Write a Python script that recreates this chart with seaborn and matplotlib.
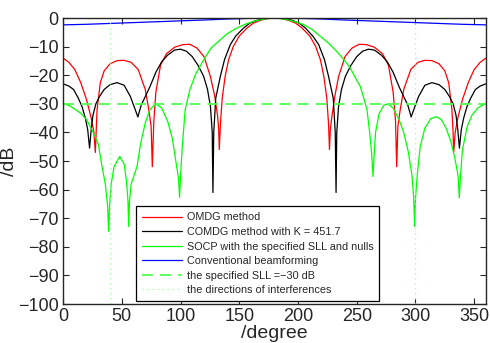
import numpy as np
import pandas as pd
import matplotlib
matplotlib.use("Agg")
import matplotlib.pyplot as plt
import seaborn as sns

sns.set_style("ticks")
plt.rcParams['font.family'] = ['Liberation Sans', 'DejaVu Sans']

# OMDG method (red)
red_deg = [0, 5, 10, 15, 20, 24, 26.3, 27.5, 29, 31.7, 35, 40, 46, 52, 58, 64, 70, 73, 75, 76,
           77.3, 79, 83, 88, 95, 102, 108, 114, 120, 125.4, 129, 131.5, 132.5, 133, 134, 135.5, 138, 141,
           145, 150, 156.6, 162, 168, 174, 180, 186, 192, 198, 203.4, 210, 215, 219, 222, 224.5,
           226, 226.8, 227.5, 229, 231.5, 234.6, 240, 246, 252, 258, 265, 272, 277, 281, 283, 284,
           285, 287, 290, 296, 302, 308, 314, 320, 325, 328.3, 331, 332, 332.5, 333.8, 336, 340,
           345, 350, 355, 360]
red_db = [-14, -15.5, -18, -22.5, -28.5, -35, -40, -47, -32, -22.7, -18.5, -16, -14.9, -14.8, -15.5, -18, -25, -32, -38, -52,
          -36, -26, -16.5, -12.5, -10.2, -9.3, -9.2, -10.5, -13.5, -20.4, -27, -34, -39, -46, -37, -28, -20.4, -14.5,
          -9.9, -6.3, -3.5, -1.8, -0.8, -0.2, 0, -0.2, -0.8, -1.8, -3.5, -6.3, -9.9, -14.5, -20.4, -28,
          -37, -46, -39, -34, -27, -20.4, -13.5, -10.5, -9.2, -9.3, -10.2, -12.5, -16.5, -26, -36, -52,
          -38, -32, -25, -18, -15.5, -14.8, -14.9, -16, -18.5, -22.7, -32, -40, -47, -40, -35, -28.5,
          -22.5, -18, -15.5, -14]

# COMDG method (black)
blk_deg = [0, 5, 9, 13, 16.2, 19, 21, 22.6, 24, 25.5, 28, 31, 35, 40, 46, 52, 57.3, 61, 63.7, 66.5,
           70, 74, 79, 84, 89, 95, 100, 105, 110, 115, 119.7, 123, 125.5, 127, 127.6, 128.3, 130, 133.9,
           137.5, 142.4, 147, 153.7, 159, 165, 172, 180, 188, 195, 201, 206.3, 212.6, 217.6, 222.5, 226,
           230, 231.7, 232.4, 233, 234.5, 237, 240.3, 245, 250, 255, 260, 265, 271, 276, 281, 286,
           290, 293.5, 296.3, 299, 302.7, 308, 314, 320, 325, 329, 332, 334.5, 336, 337.4, 339, 341,
           343.8, 347, 351, 355, 360]
blk_db = [-23, -23.8, -25, -28, -31, -35, -39, -45.5, -39, -34, -30, -27.5, -25, -23.3, -22.6, -23.5, -27.4, -31.5, -34.6, -30.5,
          -27.5, -24, -19, -15.3, -13, -11.2, -10.9, -11.6, -13.5, -16.6, -20.4, -25, -31, -40, -61, -40, -28, -20.4,
          -14.5, -9.3, -6.3, -3.5, -1.8, -0.8, -0.15, 0, -0.15, -0.8, -1.8, -3.5, -6.3, -9.3, -14.5, -20.4,
          -28, -40, -61, -40, -31, -25, -20.4, -16.6, -13.5, -11.6, -10.9, -11.2, -13, -15.3, -19, -24,
          -27.5, -30.5, -34.6, -31.5, -27.4, -23.5, -22.6, -23.3, -25, -27.5, -30, -34, -39, -45.5, -39, -35,
          -31, -28, -25, -23.8, -23]

# SOCP with the specified SLL and nulls (green)
grn_deg = [0, 7, 14.7, 20, 26, 30, 33.2, 36, 38, 38.8, 39.6, 41, 43.5, 48.2, 52, 54, 55.3, 55.9, 56.6, 58,
           63, 66, 70, 74, 79, 84, 89, 93, 96, 98.3, 99.2, 100.2, 101.5, 104, 108, 113, 119.7, 126,
           133.9, 140, 148, 155, 162, 168, 173.6, 180, 186, 192, 198, 204.8, 212, 219, 226, 233,
           239, 244.5, 249, 253, 256, 258.7, 261, 262.8, 263.8, 264.8, 266, 269, 273, 276.6, 281, 286,
           290, 294, 297, 298.5, 299.2, 300, 301.5, 304, 308, 313, 317.7, 322, 326, 330, 333.5, 336.2,
           337.3, 338.3, 340, 344, 348, 353, 360]
grn_db = [-29.7, -31, -33.2, -35.5, -40.2, -44, -51.9, -58, -66, -74.6, -66, -58, -52, -48.4, -51, -57, -64, -72.9, -64, -58,
          -51.9, -44, -36.7, -32, -30, -31.5, -36, -42, -50, -56, -62.7, -54, -45, -32, -25, -19.5, -14.6, -10.5,
          -7.6, -5.4, -3.5, -2.2, -1.2, -0.6, -0.25, 0, -0.25, -0.7, -1.4, -2.3, -4, -6.4, -8.8, -11.7,
          -14.5, -17.5, -21, -23.9, -28, -32, -40, -48, -55.4, -48, -40, -33.5, -30.5, -30, -31.5, -35.5,
          -40, -47, -55, -63, -72.9, -63, -55, -45, -38.5, -35.2, -34.5, -35.5, -38.5, -43, -49, -55,
          -62.9, -55, -46, -38, -34, -31.5, -29.7]

# Conventional beamforming (blue)
blu_deg = [0, 20, 40, 60, 80, 100, 120, 140, 160, 180, 200, 220, 240, 260, 280, 300, 320, 340, 360]
blu_db = [-2.4, -2.2, -1.9, -1.6, -1.3, -1.0, -0.7, -0.35, -0.1, 0, -0.1, -0.35, -0.7, -1.0, -1.3, -1.6, -1.9, -2.2, -2.4]

sll = -30
interf_deg = [40, 300]

fig = plt.figure(figsize=(4.9, 3.43), dpi=100)
ax = fig.add_axes([0.1286, 0.1137, 0.8632, 0.8338])

lw = 0.9
sns.lineplot(x=red_deg, y=red_db, color=(1, 0, 0), lw=lw, sort=False, estimator=None, ax=ax,
             label='OMDG method')
sns.lineplot(x=blk_deg, y=blk_db, color='black', lw=lw, sort=False, estimator=None, ax=ax,
             label='COMDG method with K = 451.7')
sns.lineplot(x=grn_deg, y=grn_db, color=(0, 1, 0), lw=lw, sort=False, estimator=None, ax=ax,
             label='SOCP with the specified SLL and nulls')
sns.lineplot(x=blu_deg, y=blu_db, color=(0, 0, 1), lw=lw, sort=False, estimator=None, ax=ax,
             label='Conventional beamforming')
ax.axhline(sll, color=(0.3, 1, 0.3), lw=1.3, ls=(0, (6, 4)),
           label='the specified SLL =\u221230 dB')
for i, d in enumerate(interf_deg):
    ax.axvline(d, color=(0.6, 1, 0.6), lw=0.9, ls=(0, (1, 3)),
               label='the directions of interferences' if i == 0 else None)

ax.set_xlim(0, 360)
ax.set_ylim(-100, 0)
ax.set_xticks(range(0, 351, 50))
ax.set_yticks(range(-100, 1, 10))
ax.tick_params(direction='in', top=True, right=True, labelsize=13, length=4, width=0.8, pad=3)
for s in ax.spines.values():
    s.set_linewidth(1.0)
    s.set_visible(True)
ax.set_xlabel('/degree', fontsize=14, labelpad=0)
ax.set_ylabel('/dB', fontsize=14, labelpad=0)

leg = ax.legend(loc='lower left', bbox_to_anchor=(0.173, 0.01), fontsize=7.8, frameon=True,
                fancybox=False, edgecolor='black', framealpha=1, handlelength=3.7,
                borderpad=0.55, labelspacing=0.42, handletextpad=0.4, borderaxespad=0)
leg.get_frame().set_linewidth(0.9)

fig.savefig('out.png', dpi=100)
